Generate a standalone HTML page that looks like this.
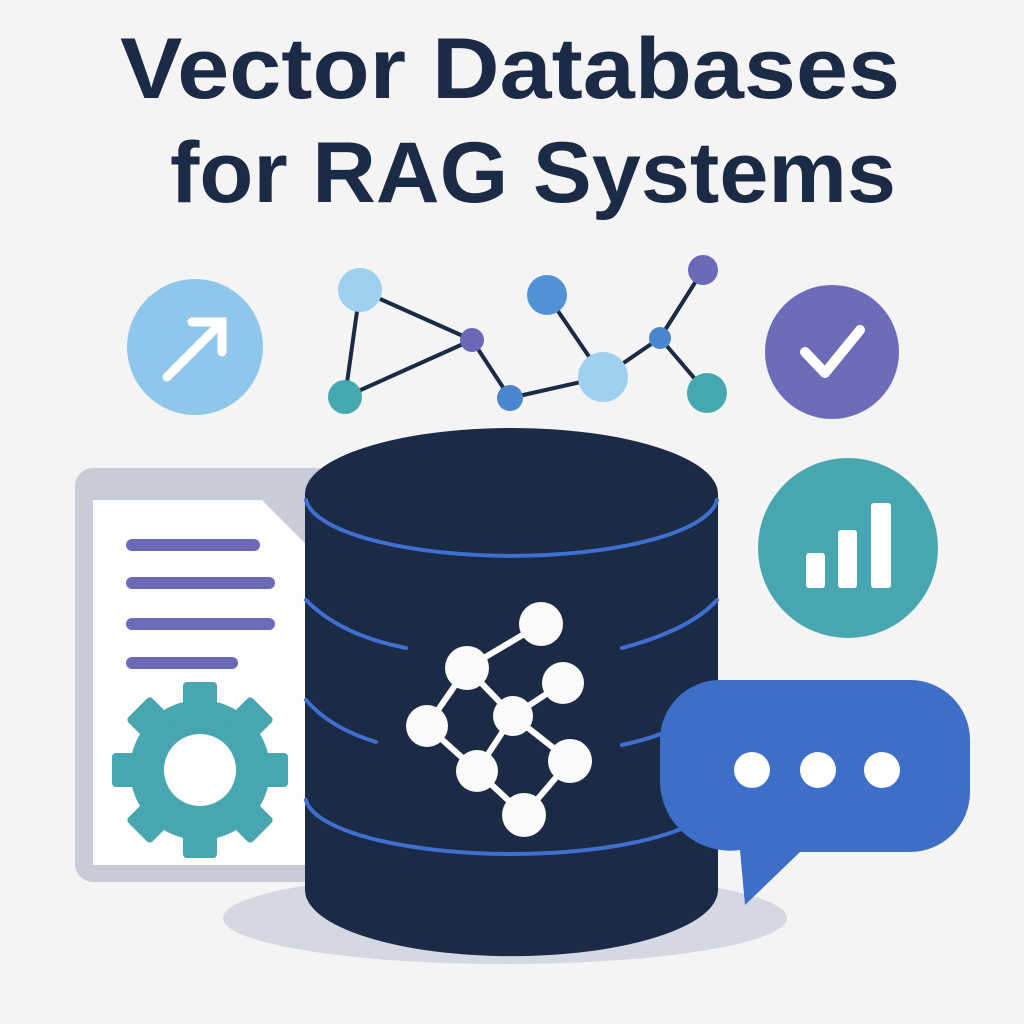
<!DOCTYPE html>
<html><head><style>
html,body{margin:0;padding:0;background:#f4f4f4;}
svg{display:block;}
</style></head><body>
<svg width="1024" height="1024" viewBox="0 0 1024 1024" xmlns="http://www.w3.org/2000/svg">
<rect width="1024" height="1024" fill="#f4f4f4"/>
<g font-family="Liberation Sans, sans-serif" font-weight="bold" fill="#1b2a45" font-size="86">
<text x="120" y="98" textLength="780" lengthAdjust="spacingAndGlyphs">Vector Databases</text>
<text x="170" y="202" textLength="726" lengthAdjust="spacingAndGlyphs">for RAG Systems</text>
</g>
<!-- arrow circle -->
<circle cx="195" cy="347" r="68" fill="#8fc7ea"/>
<g stroke="#fff" stroke-width="9" stroke-linecap="round" fill="none">
<line x1="167" y1="377" x2="222" y2="322"/>
<polyline points="192,322 222,322 222,352"/>
</g>
<!-- network top -->
<g stroke="#1b2a45" stroke-width="4">
<line x1="360" y1="290" x2="472" y2="340"/><line x1="345" y1="397" x2="472" y2="340"/>
<line x1="360" y1="290" x2="345" y2="397"/><line x1="472" y1="340" x2="510" y2="398"/>
<line x1="510" y1="398" x2="603" y2="377"/><line x1="547" y1="295" x2="603" y2="377"/>
<line x1="603" y1="377" x2="660" y2="338"/><line x1="660" y1="338" x2="703" y2="270"/>
<line x1="660" y1="338" x2="707" y2="393"/>
</g>
<circle cx="360" cy="290" r="22" fill="#9fd0f0"/>
<circle cx="345" cy="397" r="17" fill="#45a8b0"/>
<circle cx="472" cy="340" r="12" fill="#6a6ab8"/>
<circle cx="510" cy="398" r="13" fill="#4a85d0"/>
<circle cx="547" cy="295" r="20" fill="#4f93d4"/>
<circle cx="603" cy="377" r="25" fill="#9fd0f0"/>
<circle cx="660" cy="338" r="11" fill="#4a85d0"/>
<circle cx="703" cy="270" r="15" fill="#6a6ab8"/>
<circle cx="707" cy="393" r="20" fill="#45a8b0"/>
<!-- check -->
<circle cx="832" cy="352" r="67" fill="#6b6bb8"/>
<polyline points="805,352 825,373 860,330" fill="none" stroke="#fff" stroke-width="10" stroke-linecap="round" stroke-linejoin="round"/>
<!-- chart -->
<circle cx="848" cy="548" r="90" fill="#48a6b0"/>
<g fill="#fff"><rect x="806" y="553" width="19" height="35" rx="3"/><rect x="838" y="530" width="19" height="58" rx="3"/><rect x="871" y="503" width="20" height="85" rx="3"/></g>
<!-- document -->
<rect x="75" y="468" width="260" height="414" rx="18" fill="#c8ccd8"/>
<path d="M93 500 H262 L320 558 V865 H93 Z" fill="#fdfdfd"/>
<g stroke="#6a6ab8" stroke-width="12" stroke-linecap="round">
<line x1="132" y1="545" x2="254" y2="545"/><line x1="132" y1="583" x2="269" y2="583"/>
<line x1="132" y1="624" x2="269" y2="624"/><line x1="132" y1="663" x2="232" y2="663"/>
</g>
<!-- gear -->
<g fill="#48a6b0" transform="translate(200,770)">
<circle r="70"/>
<g id="t"><rect x="-17" y="-88" width="34" height="36" rx="4"/></g>
<use href="#t" transform="rotate(45)"/><use href="#t" transform="rotate(90)"/><use href="#t" transform="rotate(135)"/>
<use href="#t" transform="rotate(180)"/><use href="#t" transform="rotate(225)"/><use href="#t" transform="rotate(270)"/><use href="#t" transform="rotate(315)"/>
<circle r="36" fill="#fdfdfd"/>
</g>
<!-- shadow -->
<ellipse cx="505" cy="918" rx="282" ry="46" fill="#d4d8e2"/>
<!-- cylinder -->
<path d="M305 494 V890 A206 66 0 0 0 718 890 V494 Z" fill="#1b2a45"/>
<ellipse cx="511.5" cy="494" rx="206.5" ry="66" fill="#1b2a45"/>
<g stroke="#3f6fd0" stroke-width="4" fill="none" stroke-linecap="round">
<path d="M306 500 A206 60 0 0 0 717 500"/>
<path d="M306 600 Q340 635 406 648"/>
<path d="M717 600 Q690 630 622 648"/>
<path d="M306 700 Q330 728 376 742"/>
<path d="M717 700 Q690 730 622 745"/>
<path d="M306 800 A206 58 0 0 0 717 800"/>
</g>
<g stroke="#fff" stroke-width="6">
<line x1="541" y1="624" x2="467" y2="668"/><line x1="467" y1="668" x2="513" y2="716"/>
<line x1="467" y1="668" x2="427" y2="726"/><line x1="563" y1="683" x2="513" y2="716"/>
<line x1="513" y1="716" x2="477" y2="771"/><line x1="513" y1="716" x2="570" y2="761"/>
<line x1="427" y1="726" x2="477" y2="771"/><line x1="477" y1="771" x2="524" y2="815"/>
<line x1="570" y1="761" x2="524" y2="815"/>
</g>
<g fill="#fafafa">
<circle cx="541" cy="624" r="22"/><circle cx="467" cy="668" r="22"/><circle cx="563" cy="683" r="21"/>
<circle cx="513" cy="716" r="20"/><circle cx="427" cy="726" r="21"/><circle cx="477" cy="771" r="21"/>
<circle cx="570" cy="761" r="22"/><circle cx="524" cy="815" r="22"/>
</g>
<!-- speech bubble -->
<path d="M720 680 H910 A60 60 0 0 1 970 740 V792 A60 60 0 0 1 910 852 H800 L745 905 L740 850 A70 70 0 0 1 660 782 V740 A60 60 0 0 1 720 680 Z" fill="#3d6ec8"/>
<g fill="#fff"><circle cx="752" cy="770" r="18"/><circle cx="818" cy="770" r="18"/><circle cx="882" cy="770" r="18"/></g>
</svg>
</body></html>
